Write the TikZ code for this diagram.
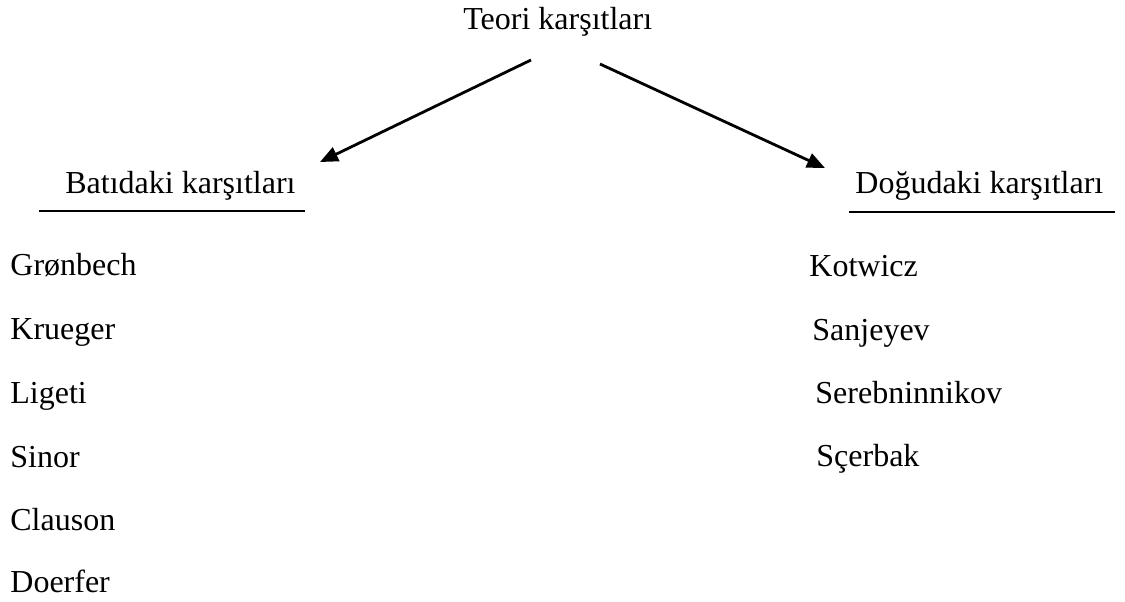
\documentclass[tikz,border=0pt]{standalone}
\usepackage{fontspec}
\setmainfont{Liberation Serif}
\usetikzlibrary{arrows.meta}
\begin{document}
\begin{tikzpicture}[x=0.5pt,y=-0.5pt,
  txt/.style={anchor=base west,inner sep=0pt,font=\fontsize{16}{19}\selectfont},
  arr/.style={line width=1.4pt,-{Triangle[length=9pt,width=7.5pt]}},
  uline/.style={line width=1pt}]
\useasboundingbox (0,0) rectangle (1125,601);
\node[txt] (title) at (463,29) {Teori karşıtları};
\node[txt] (west) at (65,193) {Batıdaki karşıtları};
\node[txt] (east) at (855,193) {Doğudaki karşıtları};
\coordinate (ls) at (531,60);
\coordinate (le) at (320,162);
\coordinate (rs) at (600,64);
\coordinate (re) at (825,168);
\draw[arr] (ls) -- (le);
\draw[arr] (rs) -- (re);
\coordinate (wu1) at (39,211);
\coordinate (wu2) at (305,211);
\coordinate (eu1) at (849,212);
\coordinate (eu2) at (1115,212);
\draw[uline] (wu1) -- (wu2);
\draw[uline] (eu1) -- (eu2);
\node[txt] (w1) at (10,275) {Grønbech};
\node[txt] (w2) at (10,339) {Krueger};
\node[txt] (w3) at (10,403) {Ligeti};
\node[txt] (w4) at (10,467) {Sinor};
\node[txt] (w5) at (10,530) {Clauson};
\node[txt] (w6) at (10,592) {Doerfer};
\node[txt] (e1) at (809,276) {Kotwicz};
\node[txt] (e2) at (812,340) {Sanjeyev};
\node[txt] (e3) at (815,403) {Serebninnikov};
\node[txt] (e4) at (816,466) {Sçerbak};
\end{tikzpicture}
\end{document}
